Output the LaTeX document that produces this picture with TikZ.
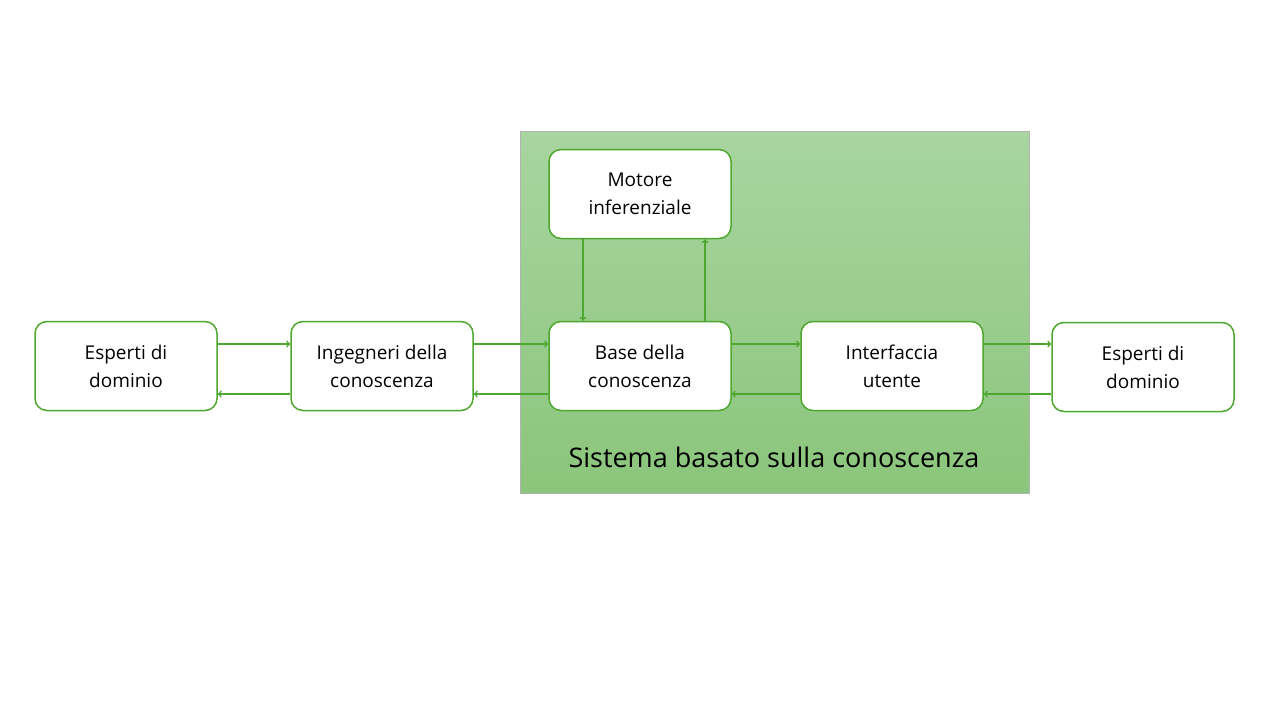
\documentclass[tikz,border=0pt]{standalone}
\usepackage{fontspec}
\setmainfont{Open Sans}
\usepackage{tikz}
\usetikzlibrary{calc}
\definecolor{edgegreen}{HTML}{4EA72E}
\definecolor{topgreen}{HTML}{A8D5A0}
\definecolor{botgreen}{HTML}{8BC57B}
\tikzset{block/.style={draw=edgegreen, line width=1.5pt, fill=white, rounded corners=12pt,
    minimum width=182pt, minimum height=89pt, align=center, font=\fontsize{19}{28}\selectfont}}
\tikzset{flow/.style={draw=edgegreen, line width=1.5pt, -to}}

\begin{document}
\begin{tikzpicture}[x=1pt, y=-1pt]
    \useasboundingbox (0,0) rectangle (1280,720);
    \fill[top color=topgreen, bottom color=botgreen, draw=gray!60] (520,131) rectangle (1029,493);
    \node[font=\fontsize{27}{32}\selectfont] at (774,457) (title) {Sistema basato sulla conoscenza};

    \node[block] at (126,366) (EL) {Esperti di\\dominio};
    \node[block] at (382,366) (IC) {Ingegneri della\\conoscenza};
    \node[block] at (640,366) (BC) {Base della\\conoscenza};
    \node[block] at (892,366) (IU) {Interfaccia\\utente};
    \node[block] at (1143,367) (ER) {Esperti di\\dominio};
    \node[block] at (640,194) (MI) {Motore\\inferenziale};

    % top row, rightwards
    \draw[flow] ($(EL.east)+(0,-22)$) -- ($(IC.west)+(0,-22)$);
    \draw[flow] ($(IC.east)+(0,-22)$) -- ($(BC.west)+(0,-22)$);
    \draw[flow] ($(BC.east)+(0,-22)$) -- ($(IU.west)+(0,-22)$);
    \draw[flow] ($(IU.east)+(0,-22)$) -- ($(ER.west)+(0,-23)$);
    % bottom row, leftwards
    \draw[flow] ($(IC.west)+(0,28)$) -- ($(EL.east)+(0,28)$);
    \draw[flow] ($(BC.west)+(0,28)$) -- ($(IC.east)+(0,28)$);
    \draw[flow] ($(IU.west)+(0,28)$) -- ($(BC.east)+(0,28)$);
    \draw[flow] ($(ER.west)+(0,27)$) -- ($(IU.east)+(0,28)$);
    % vertical
    \draw[flow] ($(MI.south)+(-57,0)$) -- ($(BC.north)+(-57,0)$);
    \draw[flow] ($(BC.north)+(65,0)$) -- ($(MI.south)+(65,0)$);
\end{tikzpicture}
\end{document}
